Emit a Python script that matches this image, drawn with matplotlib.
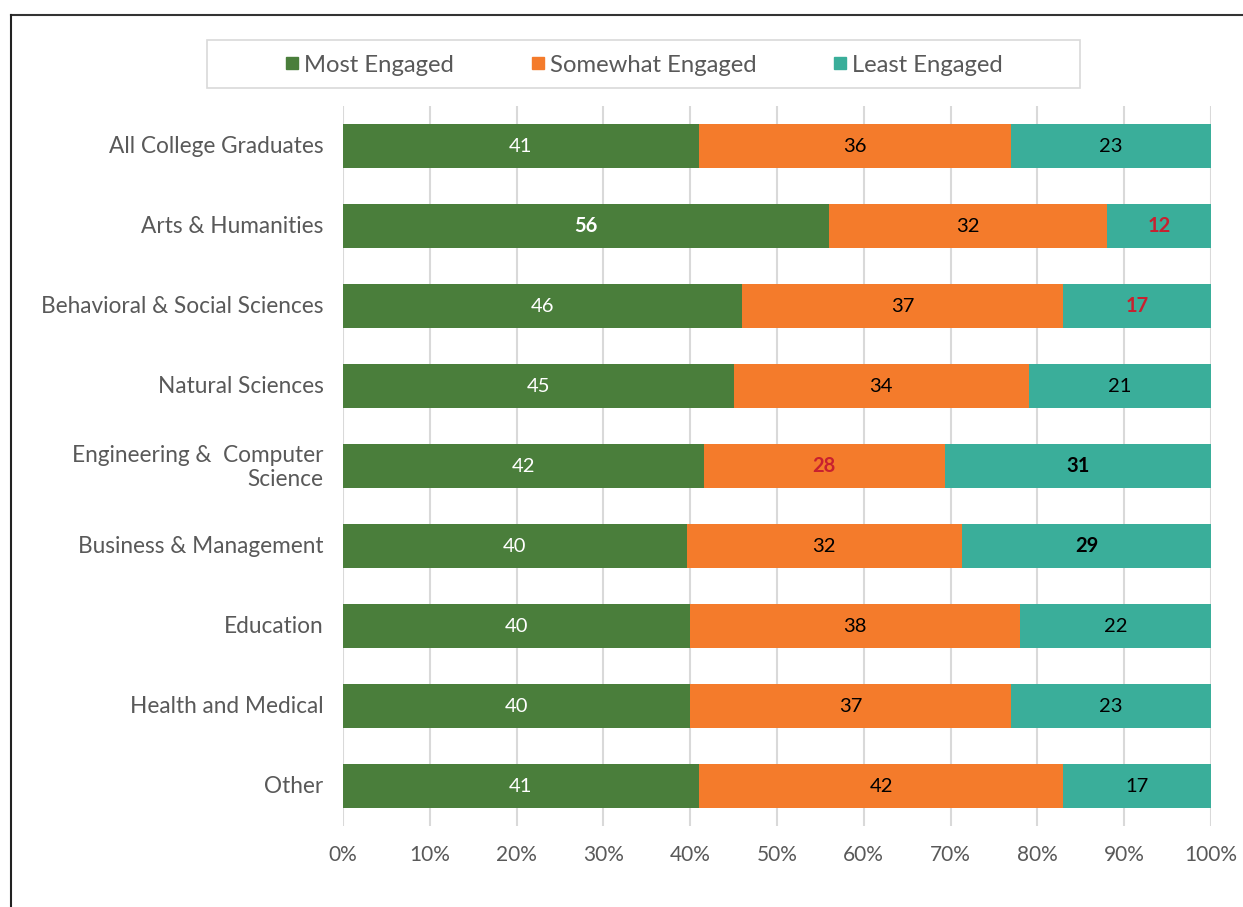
import matplotlib
matplotlib.use("Agg")
import matplotlib.pyplot as plt
import matplotlib.transforms as mtransforms
from matplotlib.lines import Line2D
from matplotlib.patches import Rectangle
import numpy as np

plt.rcParams['font.family'] = ['Lato', 'DejaVu Sans']

categories = ["All College Graduates", "Arts & Humanities", "Behavioral & Social Sciences",
              "Natural Sciences", "Engineering &  Computer\nScience", "Business & Management",
              "Education", "Health and Medical", "Other"]
most = [41, 56, 46, 45, 42, 40, 40, 40, 41]
somewhat = [36, 32, 37, 34, 28, 32, 38, 37, 42]
least = [23, 12, 17, 21, 31, 29, 22, 23, 17]
series_names = ["Most Engaged", "Somewhat Engaged", "Least Engaged"]
colors = ["#4a7e3b", "#f47b2b", "#3aae9a"]

# highlighted labels: (row, series) -> (colour, bold)
highlights = {(1, 0): ("white", True), (1, 2): ("#c8202f", True),
              (2, 2): ("#c8202f", True), (4, 1): ("#c8202f", True),
              (4, 2): ("black", True), (5, 2): ("black", True)}

data = np.array([most, somewhat, least], dtype=float)
shares = data / data.sum(axis=0) * 100

fig = plt.figure(figsize=(12.43, 9.07), dpi=100)
ax = fig.add_axes([0.2759, 0.0893, 0.6984, 0.7938])

y = np.arange(len(categories))
left = np.zeros(len(categories))
for k in range(3):
    ax.barh(y, shares[k], left=left, height=0.54, color=colors[k], zorder=3)
    for i in range(len(categories)):
        default = "white" if k == 0 else "black"
        col, bold = highlights.get((i, k), (default, False))
        ax.text(left[i] + shares[k][i] / 2, y[i], f"{int(data[k][i])}",
                ha="center", va="center", fontsize=14.5, color=col,
                fontweight="bold" if bold else "normal", zorder=4)
    left += shares[k]

ax.set_xlim(0, 100)
ax.set_ylim(len(categories) - 0.5, -0.5)
ax.set_xticks(np.arange(0, 101, 10))
ax.set_xticklabels([f"{t}%" for t in range(0, 101, 10)])
ax.set_yticks(y)
ax.set_yticklabels(categories)
ax.tick_params(axis="x", length=0, pad=14, labelsize=15, labelcolor="#595959")
ax.tick_params(axis="y", length=0, pad=14, labelsize=16.3, labelcolor="#595959")
ax.grid(axis="x", color="#d9d9d9", linewidth=1.5, zorder=0)
for s in ax.spines.values():
    s.set_visible(False)

# nudge category labels up a little
shift = mtransforms.ScaledTranslation(0, 2 / 100, fig.dpi_scale_trans)
for lbl in ax.get_yticklabels():
    lbl.set_transform(lbl.get_transform() + shift)

# legend box across the top
fig.patches.append(Rectangle((207 / 1243, 1 - 88 / 907), 873 / 1243, 48 / 907,
                             transform=fig.transFigure, fill=False,
                             edgecolor="#d9d9d9", linewidth=1.2))
handles = [Line2D([], [], marker="s", linestyle="none", markersize=9, color=c)
           for c in colors]
fig.legend(handles, series_names, loc="center", bbox_to_anchor=(644 / 1243, 1 - 65 / 907),
           ncol=3, frameon=False, fontsize=17.2, handlelength=0.6, handletextpad=0.2,
           columnspacing=3.2, labelcolor="#595959")

# outer frame
fig.add_artist(Line2D([11 / 1243, 1.0], [1 - 15 / 907, 1 - 15 / 907],
                      transform=fig.transFigure, color="#333333", linewidth=1.5))
fig.add_artist(Line2D([11 / 1243, 11 / 1243], [0, 1 - 15 / 907],
                      transform=fig.transFigure, color="#222222", linewidth=1.5))

fig.savefig("out.png", dpi=100)
